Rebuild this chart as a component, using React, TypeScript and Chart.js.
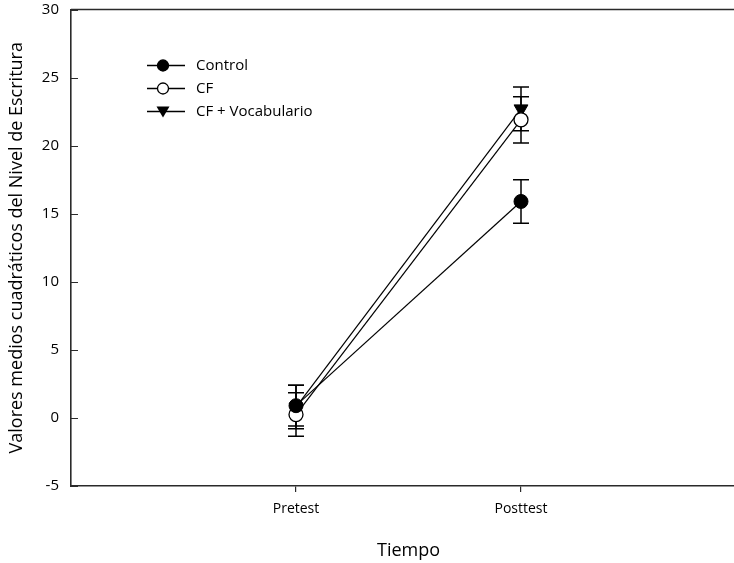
import React, { useEffect, useRef } from "react";
import { Chart, registerables } from "chart.js";

Chart.register(...registerables);

const categories = ["Pretest", "Posttest"];
const xPositions = [1, 2];
const seriesNames = ["Control", "CF", "CF + Vocabulario"];
const controlValues = [0.9, 15.9];
const controlErrors = [1.5, 1.6];
const cfValues = [0.25, 21.9];
const cfErrors = [1.6, 1.7];
const vocValues = [0.8, 22.7];
const vocErrors = [1.6, 1.6];
const yTicks = [-5, 0, 5, 10, 15, 20, 25, 30];

const FONT = "'Open Sans', 'Liberation Sans', sans-serif";
const AXIS_COLOR = "#2a2a2a";

const errorSets = [controlErrors, cfErrors, vocErrors];

const errorBarPlugin = {
  id: "errorBars",
  beforeDatasetsDraw(chart: any) {
    const { ctx, scales } = chart;
    const xs = scales.x;
    const ys = scales.y;
    ctx.save();
    ctx.strokeStyle = "#000";
    ctx.lineWidth = 1.5;
    chart.data.datasets.forEach((ds: any, i: number) => {
      const errs = errorSets[i];
      ds.data.forEach((p: any, j: number) => {
        const px = xs.getPixelForValue(p.x);
        const top = ys.getPixelForValue(p.y + errs[j]);
        const bot = ys.getPixelForValue(p.y - errs[j]);
        const hw = 8;
        ctx.beginPath();
        ctx.moveTo(px, top);
        ctx.lineTo(px, bot);
        ctx.moveTo(px - hw, top);
        ctx.lineTo(px + hw, top);
        ctx.moveTo(px - hw, bot);
        ctx.lineTo(px + hw, bot);
        ctx.stroke();
      });
    });
    ctx.restore();
  },
};

const framePlugin = {
  id: "frame",
  afterDraw(chart: any) {
    const { ctx, chartArea, scales } = chart;
    ctx.save();
    ctx.strokeStyle = AXIS_COLOR;
    ctx.lineWidth = 1.6;
    ctx.beginPath();
    ctx.moveTo(chartArea.left, chartArea.top);
    ctx.lineTo(chartArea.right, chartArea.top);
    ctx.stroke();
    // inward y ticks
    ctx.lineWidth = 1.2;
    ctx.beginPath();
    yTicks.forEach((v) => {
      const py = Math.round(scales.y.getPixelForValue(v)) + 0.5;
      ctx.moveTo(chartArea.left, py);
      ctx.lineTo(chartArea.left + 7, py);
    });
    ctx.stroke();
    ctx.restore();
  },
};

const legendPlugin = {
  id: "customLegend",
  afterDraw(chart: any) {
    const { ctx, chartArea } = chart;
    const x0 = chartArea.left + 76;
    const x1 = chartArea.left + 114;
    const mx = chartArea.left + 92;
    const tx = chartArea.left + 125;
    const rows = [chartArea.top + 56, chartArea.top + 79, chartArea.top + 102];
    ctx.save();
    ctx.font = `15px ${FONT}`;
    ctx.textBaseline = "middle";
    ctx.fillStyle = "#000";
    rows.forEach((y, i) => {
      ctx.strokeStyle = "#000";
      ctx.lineWidth = 1.3;
      ctx.beginPath();
      ctx.moveTo(x0, y);
      ctx.lineTo(x1, y);
      ctx.stroke();
      if (i === 0 || i === 1) {
        ctx.beginPath();
        ctx.arc(mx, y, 5.5, 0, Math.PI * 2);
        ctx.fillStyle = i === 0 ? "#000" : "#fff";
        ctx.fill();
        ctx.lineWidth = 1.3;
        ctx.stroke();
      } else {
        ctx.beginPath();
        ctx.moveTo(mx - 6.5, y - 5);
        ctx.lineTo(mx + 6.5, y - 5);
        ctx.lineTo(mx, y + 6);
        ctx.closePath();
        ctx.fillStyle = "#000";
        ctx.fill();
      }
      ctx.fillStyle = "#000";
      ctx.fillText(seriesNames[i], tx, y);
    });
    ctx.restore();
  },
};

export default function App() {
  const ref = useRef<HTMLCanvasElement | null>(null);
  useEffect(() => {
    if (!ref.current) return;
    const mk = (vals: number[]) => vals.map((v, i) => ({ x: xPositions[i], y: v }));
    const chart = new Chart(ref.current, {
      type: "line",
      data: {
        datasets: [
          {
            label: seriesNames[0],
            data: mk(controlValues),
            borderColor: "#000",
            borderWidth: 1.2,
            pointStyle: "circle",
            pointRadius: 7,
            pointBackgroundColor: "#000",
            pointBorderColor: "#000",
            pointBorderWidth: 1,
          },
          {
            label: seriesNames[1],
            data: mk(cfValues),
            borderColor: "#000",
            borderWidth: 1.2,
            pointStyle: "circle",
            pointRadius: 7,
            pointBackgroundColor: "#fff",
            pointBorderColor: "#000",
            pointBorderWidth: 1.3,
          },
          {
            label: seriesNames[2],
            data: mk(vocValues),
            borderColor: "#000",
            borderWidth: 1.2,
            pointStyle: "triangle",
            pointRotation: 180,
            pointRadius: 8,
            pointBackgroundColor: "#000",
            pointBorderColor: "#000",
            pointBorderWidth: 1,
          },
        ],
      },
      options: {
        responsive: false,
        animation: false,
        devicePixelRatio: 1,
        layout: { padding: { top: 9.5, right: 14, left: 0, bottom: 0 } },
        plugins: { legend: { display: false }, tooltip: { enabled: false } },
        scales: {
          x: {
            type: "linear",
            min: 0,
            max: 3,
            afterBuildTicks: (s: any) => {
              s.ticks = xPositions.map((v) => ({ value: v }));
            },
            afterFit: (s: any) => {
              s.height = 77;
              s.paddingLeft = 0;
              s.paddingRight = 0;
            },
            ticks: {
              color: "#000",
              font: { family: FONT, size: 14 },
              padding: 9,
              maxRotation: 0,
              callback: (v: any) => {
                const idx = xPositions.indexOf(Number(v));
                return idx >= 0 ? categories[idx] : "";
              },
            },
            grid: { drawOnChartArea: false, drawTicks: true, tickLength: 6, color: AXIS_COLOR, lineWidth: 1.2 },
            border: { display: true, color: AXIS_COLOR, width: 1.6 },
            title: {
              display: true,
              text: "Tiempo",
              color: "#000",
              font: { family: FONT, size: 18 },
              padding: { top: 0, bottom: 1 },
            },
          },
          y: {
            min: -5,
            max: 30,
            afterBuildTicks: (s: any) => {
              s.ticks = yTicks.map((v) => ({ value: v }));
            },
            afterFit: (s: any) => {
              s.width = 71;
              s.paddingTop = 0;
              s.paddingBottom = 0;
            },
            ticks: {
              color: "#000",
              font: { family: FONT, size: 15 },
              padding: 12,
            },
            grid: { drawOnChartArea: false, drawTicks: false },
            border: { display: true, color: AXIS_COLOR, width: 1.6 },
            title: {
              display: true,
              text: "Valores medios cuadráticos del Nivel de Escritura",
              color: "#000",
              font: { family: FONT, size: 18 },
              padding: { top: 6, bottom: 0 },
            },
          },
        },
      },
      plugins: [errorBarPlugin, framePlugin, legendPlugin],
    });
    return () => chart.destroy();
  }, []);
  return (
    <div style={{ position: "fixed", left: 0, top: 0, width: 734, height: 563, overflow: "hidden", background: "#fff" }}>
      <canvas ref={ref} width={760} height={563} style={{ display: "block" }} />
    </div>
  );
}
